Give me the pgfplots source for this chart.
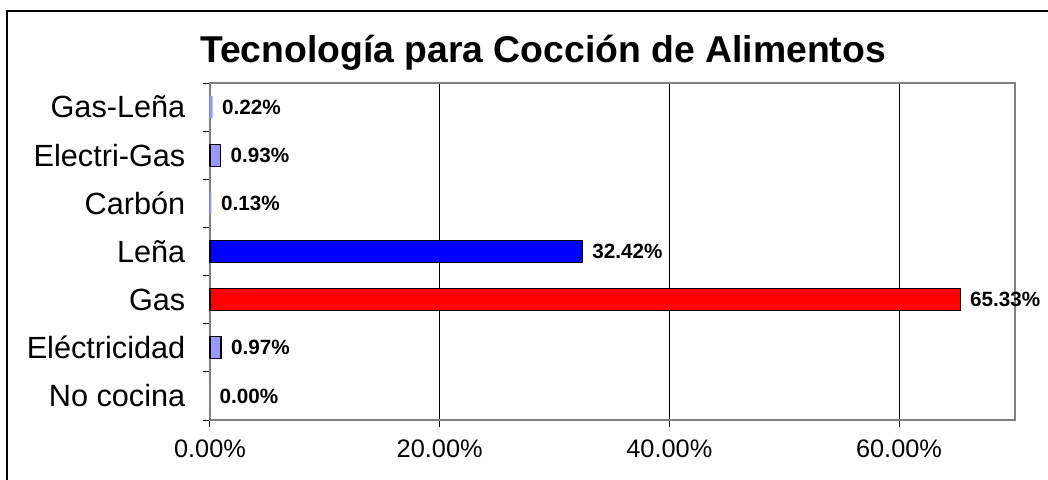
\documentclass[border=0pt]{standalone}
\usepackage{pgfplots}
\pgfplotsset{compat=1.18}
\usepackage{fontspec}
\setmainfont{Liberation Sans}
\definecolor{lav}{HTML}{9999FF}
\definecolor{framegray}{HTML}{808080}

\begin{document}
\begin{tikzpicture}
% picture size: 1048x479 px at 0.75pt/px, plot area origin at px (210,420)
\useasboundingbox (-157.5pt,-44.25pt) rectangle (628.5pt,315pt);
\draw[black, line width=0.9pt] (-152.25pt,-60pt) -- (-152.25pt,306.75pt) -- (700pt,306.75pt);
\node[font=\bfseries\fontsize{28}{32}\selectfont, anchor=base] at (249.75pt,268pt)
  {Tecnología para Cocción de Alimentos};

\begin{axis}[
  at={(0,0)}, anchor=south west,
  scale only axis,
  width=603.75pt, height=252.75pt,
  xbar, bar shift=0pt, bar width=16.5pt,
  xmin=0, xmax=70.1,
  ymin=-0.5, ymax=6.5,
  xtick={0,20,40,60},
  xticklabels={0.00\%,20.00\%,40.00\%,60.00\%},
  xticklabel style={font=\fontsize{19}{22}\selectfont, yshift=-6pt},
  ytick={0,1,2,3,4,5,6},
  yticklabels={No cocina,Eléctricidad,Gas,Leña,Carbón,Electri-Gas,Gas-Leña},
  yticklabel style={font=\fontsize{23}{26}\selectfont, xshift=-10pt},
  minor ytick={-0.5,0.5,1.5,2.5,3.5,4.5,5.5,6.5},
  xtick pos=bottom, ytick pos=left,
  tick align=outside,
  major tick length=5pt, minor tick length=5pt,
  major y tick style={draw=none},
  minor y tick style={draw=black, line width=0.75pt},
  major x tick style={draw=black, line width=0.75pt},
  xmajorgrids=true,
  grid style={black, line width=0.75pt},
  axis line style={framegray, line width=1.2pt},
  clip=false,
  nodes near coords={\pgfmathprintnumber[fixed,fixed zerofill,precision=2,assume math mode=true]{\pgfplotspointmeta}\%},
  nodes near coords style={font=\bfseries\fontsize{15.5}{18}\selectfont, anchor=west, inner sep=0pt, xshift=7pt, text=black},
]
% tiny shares: no visible outline in the reference
\addplot[draw=none, fill=lav] coordinates {
  (0.00,0) (0.13,4) (0.22,6)
};
\addplot[draw=black, fill=lav, line width=1pt] coordinates {
  (0.97,1) (0.93,5)
};
\addplot[draw=black, fill=blue, line width=1pt] coordinates {
  (32.42,3)
};
\addplot[draw=black, fill=red, line width=1pt] coordinates {
  (65.33,2)
};
\end{axis}
\end{tikzpicture}
\end{document}
